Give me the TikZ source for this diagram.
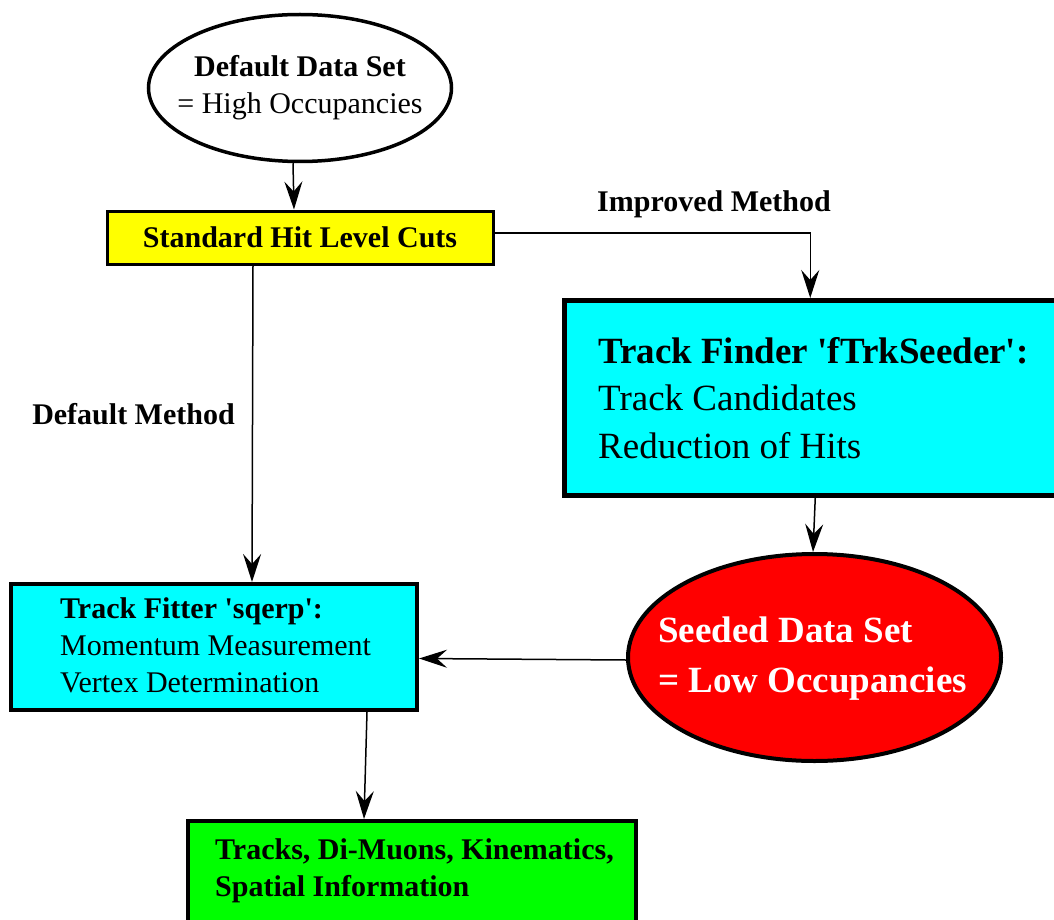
\documentclass[tikz,border=0pt]{standalone}
\usepackage{fontspec}
\setmainfont{Liberation Serif}[Ligatures=TeXOff]
\usetikzlibrary{shapes.geometric,arrows.meta}
\definecolor{cyanrgb}{RGB}{0,255,255}
\definecolor{yellowrgb}{RGB}{255,255,0}
\definecolor{greenrgb}{RGB}{0,255,0}
\definecolor{redrgb}{RGB}{255,0,0}
\begin{document}
\begin{tikzpicture}[x=1pt,y=-1pt,
  arr/.style={-{Stealth[length=28pt,width=18pt,inset=10pt]}, line width=1.5pt},
  sm/.style={font=\fontsize{30}{37}\selectfont},
  smb/.style={font=\fontsize{30}{37}\selectfont\bfseries},
  boxstyle/.style={draw, rectangle, inner sep=0pt},
  txt/.style={inner sep=0pt, align=left, anchor=west}]
\useasboundingbox (0,0) rectangle (1054,920);
\clip (0,0) rectangle (1054,920);

% top ellipse
\node[ellipse, draw, line width=3.5pt, fill=white, minimum width=303pt, minimum height=147pt, inner sep=0pt] (dds) at (300,88) {};
\node[sm, align=center, inner sep=0pt] (ddst) at (300,87.5) {\textbf{Default Data Set}\\= High Occupancies};

% yellow box
\node[boxstyle, line width=3pt, fill=yellowrgb, minimum width=386pt, minimum height=53pt, smb] (shc) at (300,237.5) {Standard Hit Level Cuts};

% track finder
\node[boxstyle, line width=5pt, fill=cyanrgb, minimum width=495.5pt, minimum height=195pt] (tf) at (812.25,398) {};
\node[txt, font=\fontsize{37}{47.5}\selectfont] (tft) at (598,397.8) {\textbf{Track Finder 'fTrkSeeder':}\\Track Candidates\\Reduction of Hits};

% red ellipse
\node[ellipse, draw, line width=4pt, fill=redrgb, minimum width=373pt, minimum height=207pt, inner sep=0pt] (red) at (814.5,657.5) {};
\node[txt, font=\fontsize{37}{50}\selectfont\bfseries, text=white] (redt) at (658,658.4) {Seeded Data Set\\= Low Occupancies};

% track fitter
\node[boxstyle, line width=4pt, fill=cyanrgb, minimum width=406pt, minimum height=126pt] (tfit) at (214,647) {};
\node[txt, sm] (tfitt) at (60,645.6) {\textbf{Track Fitter 'sqerp':}\\Momentum Measurement\\Vertex Determination};

% green box
\node[boxstyle, line width=4pt, fill=greenrgb, minimum width=448pt, minimum height=129pt] (gr) at (412,885.5) {};
\node[txt, smb] (grt) at (215,871) {Tracks, Di-Muons, Kinematics,\\Spatial Information};

% labels
\node[smb, anchor=base, inner sep=0pt] (impl) at (714,211.7) {Improved Method};
\node[smb, anchor=base, inner sep=0pt] (defl) at (133.5,424.3) {Default Method};

% connectors
\draw[arr] ([xshift=-7pt]dds.south) -- ([xshift=-6pt]shc.north);
\draw[arr] ([yshift=4.5pt]shc.east) -| ([xshift=-2pt]tf.north);
\draw[arr] ([xshift=-47pt]shc.south) -- ([xshift=38pt]tfit.north);
\draw[arr] ([xshift=3pt]tf.south) -- ([xshift=-1.5pt]red.north);
\draw[arr] ([yshift=-2.5pt]red.west) -- ([yshift=-11.5pt]tfit.east);
\draw[arr] ([xshift=153pt]tfit.south) -- ([xshift=-48pt]gr.north);
\end{tikzpicture}
\end{document}
